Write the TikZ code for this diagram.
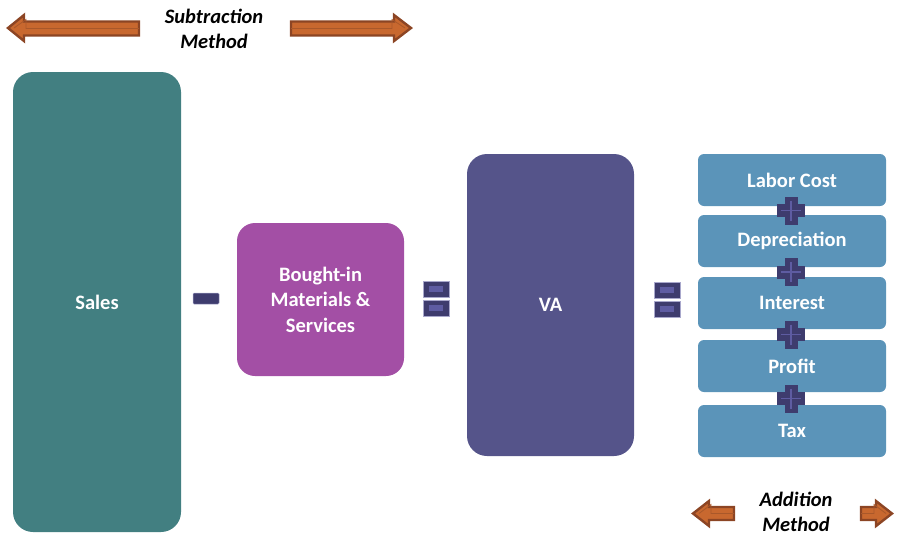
\documentclass[tikz,border=0pt]{standalone}
\usepackage{fontspec}
\setmainfont{Carlito}
\definecolor{salescol}{HTML}{427F81}
\definecolor{boughtcol}{HTML}{A34FA5}
\definecolor{vacol}{HTML}{55548A}
\definecolor{partcol}{HTML}{5B94B9}
\definecolor{signdark}{HTML}{3E3C6E}
\definecolor{signlight}{HTML}{5E5CA2}
\definecolor{signedge}{HTML}{A9A8CC}
\definecolor{arrowfill}{HTML}{C8682F}
\definecolor{arrowedge}{HTML}{8C4524}
\definecolor{arrowinner}{HTML}{A9582A}
\tikzset{
  bigbox/.style={rounded corners=20pt, text=white, align=center,
    font=\bfseries\fontsize{20.5}{25.5}\selectfont, inner sep=0pt},
  partbox/.style={fill=partcol, rounded corners=6pt, minimum width=188pt,
    minimum height=52pt, text=white, font=\bfseries\fontsize{20.5}{24}\selectfont, inner sep=0pt},
  methodtext/.style={align=center, font=\bfseries\itshape\fontsize{20.5}{25.5}\selectfont, inner sep=0pt},
  fatarrow/.style={fill=arrowfill, draw=arrowedge, line width=2.4pt, line join=miter},
  innerarrow/.style={draw=arrowinner, line width=0.8pt},
  signbar/.style={fill=signdark, draw=signedge, line width=0.5pt},
  signhi/.style={fill=signlight},
  pics/plussign/.style={code={
    \fill[signdark] (-6.5,-14) rectangle (6.5,14);
    \fill[signdark] (-14,-6.5) rectangle (14,6.5);
    \draw[signlight, line width=1.2pt] (0,-10) -- (0,10) (-10,0) -- (10,0);
  }},
  pics/equalsign/.style={code={
    \draw[signbar] (-13,-17.5) rectangle (13,-1.5);
    \fill[signhi] (-7,-12.5) rectangle (7,-6.5);
    \draw[signbar] (-13,1.5) rectangle (13,17.5);
    \fill[signhi] (-7,6.5) rectangle (7,12.5);
  }}
}
\begin{document}
\begin{tikzpicture}[x=1pt,y=-1pt]
\useasboundingbox (0,0) rectangle (897,536);
% top arrows
\draw[fatarrow] (8,28) -- (24,15) -- (24,21.5) -- (139,21.5) -- (139,35.5) -- (24,35.5) -- (24,41) -- cycle;
\draw[innerarrow] (14,28) -- (26,19.5) -- (26,28.5) -- (139,28.5);
\draw[fatarrow] (411,28) -- (394,15) -- (394,21.5) -- (291,21.5) -- (291,35.5) -- (394,35.5) -- (394,41) -- cycle;
\draw[innerarrow] (405,28) -- (392,19.5) -- (392,28.5) -- (291,28.5);
\node[methodtext] (subtxt) at (214,29) {Subtraction\\Method};
% bottom arrows
\draw[fatarrow] (693,513.5) -- (709,501) -- (709,507) -- (734,507) -- (734,520) -- (709,520) -- (709,526) -- cycle;
\draw[innerarrow] (699,513.5) -- (711,504.5) -- (711,513.5) -- (734,513.5);
\draw[fatarrow] (892,513.5) -- (876,501) -- (876,507) -- (861,507) -- (861,520) -- (876,520) -- (876,526) -- cycle;
\draw[innerarrow] (886,513.5) -- (874,504.5) -- (874,513.5) -- (861,513.5);
\node[methodtext] (addtxt) at (796,512) {Addition\\Method};
% main boxes
\node[bigbox, fill=salescol, minimum width=168pt, minimum height=460pt] (sales) at (97,302) {Sales};
\node[signbar, rounded corners=1pt, minimum width=26pt, minimum height=11pt, inner sep=0pt] (minus) at (206,298.5) {};
\node[bigbox, fill=boughtcol, rounded corners=18pt, minimum width=167pt, minimum height=153pt] (bought) at (320.5,299.5) {Bought-in\\Materials \&\\Services};
\pic (eqone) at (436,298.5) {equalsign};
\node[bigbox, fill=vacol, minimum width=167pt, minimum height=302pt] (va) at (550.5,305) {VA};
\pic (eqtwo) at (667,299.5) {equalsign};
% parts
\node[partbox] (labor) at (792,180) {Labor Cost};
\node[partbox] (depr) at (792,241) {Depreciation};
\node[partbox] (interest) at (792,303) {Interest};
\node[partbox] (profit) at (792,366) {Profit};
\node[partbox] (tax) at (792,431) {Tax};
\pic (plusone) at (791,210.5) {plussign};
\pic (plustwo) at (791,272) {plussign};
\pic (plusthree) at (791,334.5) {plussign};
\pic (plusfour) at (791,398.5) {plussign};
\end{tikzpicture}
\end{document}
